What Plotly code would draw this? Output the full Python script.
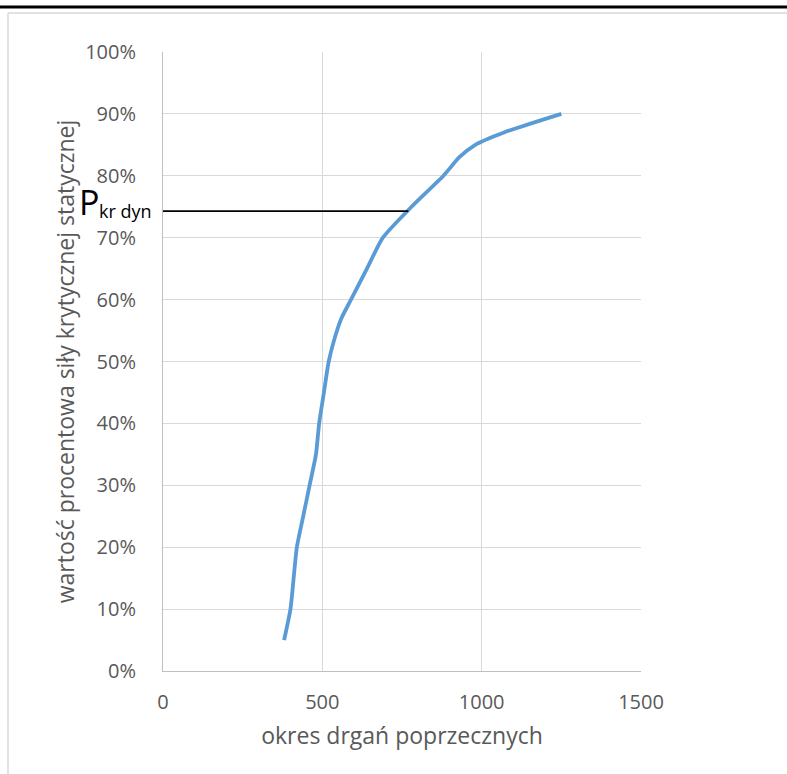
import plotly.graph_objects as go

# period of transverse vibration vs. share of static critical force
okres = [380, 400, 410, 420, 440, 460, 480, 490, 505, 520, 540, 560, 590, 640, 690, 780, 880, 930, 980, 1070, 1250]
procent = [0.05, 0.10, 0.15, 0.20, 0.25, 0.30, 0.35, 0.40, 0.45, 0.50, 0.54, 0.57, 0.60, 0.65, 0.70, 0.75, 0.80, 0.83, 0.85, 0.87, 0.90]

# horizontal marker for P_kr dyn
pkr_x = [0, 770]
pkr_y = [0.743, 0.743]

x_ticks = [0, 500, 1000, 1500]
y_ticks = [i / 10 for i in range(11)]

FONT = "'Open Sans', Lato, sans-serif"
GREY_TXT = "#595959"
W, H = 787, 774
L, R, T, B = 163, 146, 52, 103
PW, PH = W - L - R, H - T - B


def px(x):
    return (x - L) / PW


def py(y):
    return (H - B - y) / PH


fig = go.Figure()
fig.add_trace(
    go.Scatter(
        x=okres,
        y=procent,
        mode="lines",
        line={"color": "#5B9BD5", "width": 3.8, "shape": "spline", "smoothing": 0.6},
        showlegend=False,
        hoverinfo="skip",
    )
)
fig.add_trace(
    go.Scatter(
        x=pkr_x,
        y=pkr_y,
        mode="lines",
        line={"color": "#000000", "width": 1.8},
        showlegend=False,
        hoverinfo="skip",
    )
)

fig.update_xaxes(
    range=[0, 1500],
    tickvals=x_ticks,
    showgrid=True,
    gridcolor="#D9D9D9",
    gridwidth=1,
    showline=True,
    linecolor="#BFBFBF",
    linewidth=1,
    zeroline=False,
    ticks="",
    ticklabelstandoff=13,
    tickfont={"family": FONT, "size": 20, "color": GREY_TXT},
    title={"text": "okres drgań poprzecznych", "font": {"family": FONT, "size": 23, "color": GREY_TXT}, "standoff": 13},
)
fig.update_yaxes(
    range=[0, 1],
    tickvals=y_ticks,
    tickformat=".0%",
    showgrid=True,
    gridcolor="#D9D9D9",
    gridwidth=1,
    showline=True,
    linecolor="#BFBFBF",
    linewidth=1,
    zeroline=False,
    ticks="",
    ticklabelstandoff=22,
    tickfont={"family": FONT, "size": 20, "color": GREY_TXT},
    title={"text": "wartość procentowa siły krytycznej statycznej", "font": {"family": FONT, "size": 23, "color": GREY_TXT}, "standoff": 4},
)

fig.add_annotation(
    text="P", xref="paper", yref="y", x=px(77), y=pkr_y[0], xanchor="left", yanchor="bottom",
    yshift=-16, showarrow=False, font={"family": FONT, "size": 34, "color": "#000000"},
)
fig.add_annotation(
    text="kr dyn", xref="paper", yref="y", x=px(97), y=pkr_y[0], xanchor="left", yanchor="middle",
    showarrow=False, font={"family": FONT, "size": 18, "color": "#000000"},
)

fig.update_layout(
    width=W,
    height=H,
    margin={"l": L, "r": R, "t": T, "b": B, "autoexpand": False},
    paper_bgcolor="#FFFFFF",
    plot_bgcolor="#FFFFFF",
    shapes=[
        {"type": "line", "xref": "paper", "yref": "paper", "x0": px(0), "x1": px(W), "y0": py(7), "y1": py(7),
         "line": {"color": "#000000", "width": 3}},
        {"type": "line", "xref": "paper", "yref": "paper", "x0": px(8), "x1": px(W), "y0": py(13), "y1": py(13),
         "line": {"color": "#D9D9D9", "width": 1.5}},
        {"type": "line", "xref": "paper", "yref": "paper", "x0": px(8), "x1": px(8), "y0": py(13), "y1": py(H),
         "line": {"color": "#D9D9D9", "width": 1.5}},
    ],
)

# the page's default body margin would shift the figure by 8px
fig.write_html(
    "out.html",
    config={"displayModeBar": False},
    post_script="document.body.style.margin='0';",
)
